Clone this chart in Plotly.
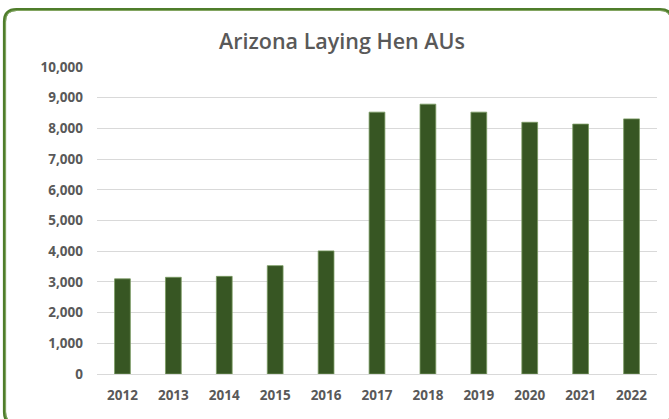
import plotly.graph_objects as go

years = ["2012", "2013", "2014", "2015", "2016", "2017", "2018", "2019", "2020", "2021", "2022"]
hen_aus = [3100, 3150, 3180, 3530, 4010, 8530, 8790, 8530, 8200, 8140, 8310]
y_ticks = [0, 1000, 2000, 3000, 4000, 5000, 6000, 7000, 8000, 9000, 10000]
y_tick_labels = [f"{v:,}" for v in y_ticks]

W, H = 669, 419
L, R, T, B = 97, 12, 67, 45
pw, ph = W - L - R, H - T - B


def px(x):
    return (x - L) / pw


def py(y):
    return (H - B - y) / ph


def rounded_rect(x0, y0, x1, y1, r):
    return (
        f"M {px(x0 + r)} {py(y0)} L {px(x1 - r)} {py(y0)} "
        f"Q {px(x1)} {py(y0)} {px(x1)} {py(y0 + r)} "
        f"L {px(x1)} {py(y1 - r)} Q {px(x1)} {py(y1)} {px(x1 - r)} {py(y1)} "
        f"L {px(x0 + r)} {py(y1)} Q {px(x0)} {py(y1)} {px(x0)} {py(y1 - r)} "
        f"L {px(x0)} {py(y0 + r)} Q {px(x0)} {py(y0)} {px(x0 + r)} {py(y0)} Z"
    )


tick_font = dict(family="Open Sans", size=13.5, color="#595959", weight="bold")

fig = go.Figure(
    go.Bar(
        x=years,
        y=hen_aus,
        marker=dict(color="#375623", line=dict(color="#7a9a62", width=0.8)),
    )
)

fig.update_layout(
    width=W,
    height=H,
    margin=dict(l=L, r=R, t=T, b=B),
    paper_bgcolor="white",
    plot_bgcolor="white",
    bargap=0.69,
    showlegend=False,
    title=dict(
        text="Arizona Laying Hen AUs",
        x=342 / W,
        xanchor="center",
        y=1 - 41 / H,
        yanchor="middle",
        font=dict(family="Open Sans", size=21.5, color="#595959", weight=600),
    ),
    xaxis=dict(
        showgrid=False,
        showline=False,
        ticks="",
        ticklabelstandoff=11,
        tickfont=tick_font,
    ),
    yaxis=dict(
        range=[0, 10000],
        tickvals=y_ticks,
        ticktext=y_tick_labels,
        showgrid=True,
        gridcolor="#d9d9d9",
        gridwidth=1,
        zeroline=True,
        zerolinecolor="#d9d9d9",
        zerolinewidth=1,
        showline=False,
        ticks="",
        ticklabelstandoff=13,
        tickfont=tick_font,
    ),
    shapes=[
        dict(
            type="path",
            xref="paper",
            yref="paper",
            path=rounded_rect(4.5, 9.5, 672, 424, 12),
            line=dict(color="#4f7d2b", width=3.2),
            layer="above",
        ),
        dict(
            type="path",
            xref="paper",
            yref="paper",
            path=rounded_rect(5.5, 10.5, 671, 423, 11),
            line=dict(color="#8fb070", width=0.8),
            layer="above",
        ),
    ],
)

fig.write_html(
    "out.html",
    config={"displayModeBar": False},
    post_script="document.body.style.margin='0';document.body.style.padding='0';",
)
